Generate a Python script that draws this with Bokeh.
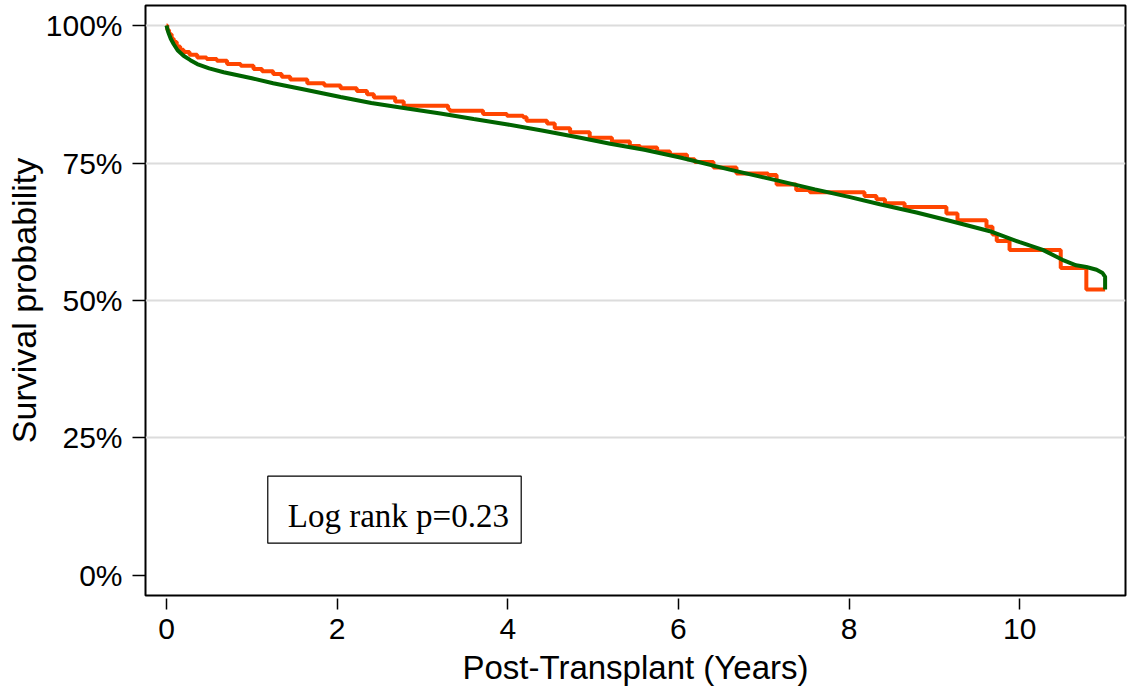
from bokeh.plotting import figure
from bokeh.models import FixedTicker, Label, BoxAnnotation, Range1d
from bokeh.embed import file_html
from bokeh.resources import INLINE

# ---- data ----
green_t = [0, 0.02, 0.05, 0.085, 0.13, 0.2, 0.28, 0.36, 0.5, 0.67, 1.0, 1.25, 1.6, 2.04,
           2.4, 2.82, 3.21, 3.6, 4.0, 4.4, 4.85, 5.2, 5.6, 6.02, 6.6, 7.19, 7.6, 8.01,
           8.36, 8.79, 9.2, 9.65, 10.0, 10.27, 10.5, 10.66, 10.78, 10.9, 10.97, 11.0, 11.0]
green_s = [100, 98.8, 97.6, 96.6, 95.5, 94.5, 93.7, 93.0, 92.2, 91.5, 90.4, 89.5, 88.4, 87.0,
           85.9, 84.9, 84.0, 83.0, 82.0, 80.9, 79.6, 78.5, 77.4, 76.0, 73.8, 71.7, 70.2, 68.8,
           67.5, 66.0, 64.4, 62.6, 60.6, 59.2, 57.4, 56.4, 56.1, 55.6, 55.0, 54.3, 52.0]

orange_t = [0, 0.01, 0.03, 0.06, 0.085, 0.12, 0.16, 0.2, 0.27, 0.36, 0.47, 0.59, 0.71, 0.87,
            1.02, 1.12, 1.25, 1.35, 1.45, 1.65, 1.85, 2.04, 2.23, 2.35, 2.43, 2.68, 2.78,
            3.30, 3.32, 3.71, 3.99, 4.18, 4.22, 4.46, 4.55, 4.73, 4.96, 5.22, 5.43, 5.55,
            5.75, 5.90, 6.10, 6.19, 6.41, 6.68, 7.05, 7.15, 7.38, 7.54, 8.18, 8.32, 8.42,
            8.65, 9.14, 9.27, 9.61, 9.68, 9.73, 9.88, 10.48, 10.78, 11.0]
orange_s = [100, 99.2, 98.4, 97.6, 97.0, 96.2, 95.6, 95.2, 94.7, 94.2, 93.9, 93.6, 93.0, 92.7,
            92.1, 91.7, 91.2, 90.7, 90.2, 89.5, 89.1, 88.6, 88.1, 87.5, 86.9, 86.2, 85.4,
            84.8, 84.5, 83.9, 83.6, 83.3, 82.7, 82.2, 81.3, 80.6, 79.6, 78.9, 78.1, 77.8,
            77.1, 76.5, 75.7, 75.2, 74.2, 73.1, 72.8, 71.1, 70.1, 69.7, 69.0, 68.4, 67.7,
            67.0, 65.8, 64.6, 63.4, 62.0, 60.8, 59.2, 55.9, 52.0, 52.0]

y_ticks = [0, 25, 50, 75, 100]
y_tick_labels = ["0%", "25%", "50%", "75%", "100%"]
y_grid = [25, 50, 75, 100]
x_ticks = [0, 2, 4, 6, 8, 10]
x_tick_labels = ["0", "2", "4", "6", "8", "10"]

x_title = "Post-Transplant (Years)"
y_title = "Survival probability"
note_text = "Log rank p=0.23"

SANS = "Liberation Sans"
SERIF = "Liberation Serif"

p = figure(width=1127, height=688, output_backend="svg", toolbar_location=None,
           x_range=Range1d(-0.246, 11.239), y_range=Range1d(-3.64, 103.64),
           min_border_left=145, min_border_right=2, min_border_top=5, min_border_bottom=93)

p.background_fill_color = "white"
p.border_fill_color = "white"
p.outline_line_color = "black"
p.outline_line_width = 2

# grid
p.xgrid.visible = False
p.ygrid.ticker = FixedTicker(ticks=y_grid)
p.ygrid.grid_line_color = "#DCDCDC"
p.ygrid.grid_line_width = 2

# y axis
ya = p.yaxis[0]
ya.ticker = FixedTicker(ticks=y_ticks)
ya.major_label_overrides = {t: l for t, l in zip(y_ticks, y_tick_labels)}
ya.axis_line_color = None
ya.major_tick_in = 0
ya.major_tick_out = 13
ya.major_tick_line_width = 1.5
ya.major_tick_line_color = "black"
ya.minor_tick_line_color = None
ya.major_label_standoff = 10
ya.major_label_text_font = SANS
ya.major_label_text_font_size = "30px"
ya.major_label_text_color = "black"
ya.axis_label = y_title
ya.axis_label_text_font = SANS
ya.axis_label_text_font_size = "34px"
ya.axis_label_text_font_style = "normal"
ya.axis_label_text_color = "black"
ya.axis_label_standoff = 0

# x axis
xa = p.xaxis[0]
xa.ticker = FixedTicker(ticks=x_ticks)
xa.major_label_overrides = {t: l for t, l in zip(x_ticks, x_tick_labels)}
xa.axis_line_color = None
xa.major_tick_in = -3
xa.major_tick_out = 14
xa.major_tick_line_width = 1.5
xa.major_tick_line_color = "black"
xa.minor_tick_line_color = None
xa.major_label_standoff = 9
xa.major_label_text_font = SANS
xa.major_label_text_font_size = "30px"
xa.major_label_text_color = "black"
xa.axis_label = x_title
xa.axis_label_text_font = SANS
xa.axis_label_text_font_size = "33px"
xa.axis_label_text_font_style = "normal"
xa.axis_label_text_color = "black"
xa.axis_label_standoff = 7

# curves
p.step(orange_t, orange_s, mode="after", line_color="#FF4500", line_width=4)
p.line(green_t, green_s, line_color="#006400", line_width=4)

# annotation box
box = BoxAnnotation(left=1.187, right=4.157, bottom=5.87, top=18.05,
                    fill_color="white", fill_alpha=1.0, line_color="black",
                    line_alpha=1.0, line_width=1.2)
p.add_layout(box)
p.add_layout(Label(x=2.717, y=10.73, text=note_text, text_font=SERIF,
                   text_font_size="33px", text_align="center", text_baseline="alphabetic",
                   text_color="black"))

open("out.html", "w").write(file_html(p, INLINE))
